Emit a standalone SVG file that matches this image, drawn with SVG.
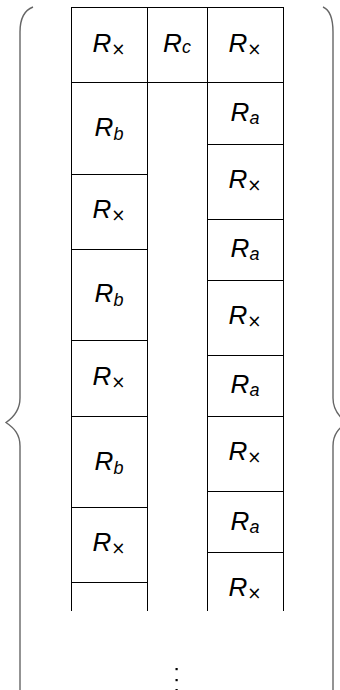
<svg xmlns="http://www.w3.org/2000/svg" width="340" height="690" viewBox="0 0 340 690">
<style>
.cell{fill:none;stroke:#000;stroke-width:1}
.open{fill:none;stroke:#000;stroke-width:1}
.brace{fill:none;stroke:#666;stroke-width:1.4}
.lbl{font-family:"Liberation Sans","DejaVu Sans",sans-serif;font-size:26px;font-style:italic;fill:#000;text-anchor:middle}
.sub{font-size:18px}
.up{font-style:normal;font-family:"DejaVu Sans",sans-serif;font-size:17px}
.dot{fill:#000}
</style>
<rect width="340" height="690" fill="#fff"/>
<g id="braces">
<path class="brace" d="M33 7 C25 10 20 18 20 32 L20 398 C20 410 14 417 6 422.5 C14 428 20 434 20 446 L20 690"/>
<path class="brace" d="M323 7 C330 10 333 18 333 32 L333 398 C333 410 339 417 347 422.5 C339 428 333 434 333 446 L333 690"/>
</g>
<g id="left-column">
<g id="L1"><rect class="cell" x="71.5" y="7.5" width="76" height="75"/><text class="lbl" x="109" y="52">R<tspan class="sub up" dy="3">×</tspan></text></g>
<g id="L2"><rect class="cell" x="71.5" y="82.5" width="76" height="92"/><text class="lbl" x="109" y="136">R<tspan class="sub" dy="4">b</tspan></text></g>
<g id="L3"><rect class="cell" x="71.5" y="174.5" width="76" height="75"/><text class="lbl" x="109" y="218">R<tspan class="sub up" dy="3">×</tspan></text></g>
<g id="L4"><rect class="cell" x="71.5" y="249.5" width="76" height="91"/><text class="lbl" x="109" y="302">R<tspan class="sub" dy="4">b</tspan></text></g>
<g id="L5"><rect class="cell" x="71.5" y="340.5" width="76" height="76"/><text class="lbl" x="109" y="385">R<tspan class="sub up" dy="3">×</tspan></text></g>
<g id="L6"><rect class="cell" x="71.5" y="416.5" width="76" height="91"/><text class="lbl" x="109" y="469.5">R<tspan class="sub" dy="4">b</tspan></text></g>
<g id="L7"><rect class="cell" x="71.5" y="507.5" width="76" height="75"/><text class="lbl" x="109" y="551">R<tspan class="sub up" dy="3">×</tspan></text></g>
<g id="L8"><path class="open" d="M71.5 582.5 V611 M147.5 582.5 V611"/></g>
</g>
<g id="middle-column">
<g id="M1"><rect class="cell" x="147.5" y="7.5" width="60" height="75"/><text class="lbl" x="177" y="52">R<tspan class="sub" dy="1">c</tspan></text></g>
</g>
<g id="right-column">
<g id="R1"><rect class="cell" x="207.5" y="7.5" width="76" height="75"/><text class="lbl" x="245" y="52">R<tspan class="sub up" dy="3">×</tspan></text></g>
<g id="R2"><rect class="cell" x="207.5" y="82.5" width="76" height="62"/><text class="lbl" x="245" y="121">R<tspan class="sub" dy="3">a</tspan></text></g>
<g id="R3"><rect class="cell" x="207.5" y="144.5" width="76" height="75"/><text class="lbl" x="245" y="188">R<tspan class="sub up" dy="3">×</tspan></text></g>
<g id="R4"><rect class="cell" x="207.5" y="219.5" width="76" height="61"/><text class="lbl" x="245" y="257">R<tspan class="sub" dy="3">a</tspan></text></g>
<g id="R5"><rect class="cell" x="207.5" y="280.5" width="76" height="75"/><text class="lbl" x="245" y="323.5">R<tspan class="sub up" dy="3">×</tspan></text></g>
<g id="R6"><rect class="cell" x="207.5" y="355.5" width="76" height="61"/><text class="lbl" x="245" y="393">R<tspan class="sub" dy="3">a</tspan></text></g>
<g id="R7"><rect class="cell" x="207.5" y="416.5" width="76" height="75"/><text class="lbl" x="245" y="460">R<tspan class="sub up" dy="3">×</tspan></text></g>
<g id="R8"><rect class="cell" x="207.5" y="491.5" width="76" height="61"/><text class="lbl" x="245" y="530">R<tspan class="sub" dy="3">a</tspan></text></g>
<g id="R9"><path class="open" d="M207.5 552.5 V611 M283.5 552.5 V611"/><text class="lbl" x="245" y="596">R<tspan class="sub up" dy="3">×</tspan></text></g>
</g>
<g id="vdots">
<rect class="dot" x="175.5" y="668" width="2.2" height="2.2"/>
<rect class="dot" x="175.5" y="679" width="2.2" height="2.2"/>
<rect class="dot" x="175.5" y="689" width="2.2" height="2.2"/>
</g>
</svg>
